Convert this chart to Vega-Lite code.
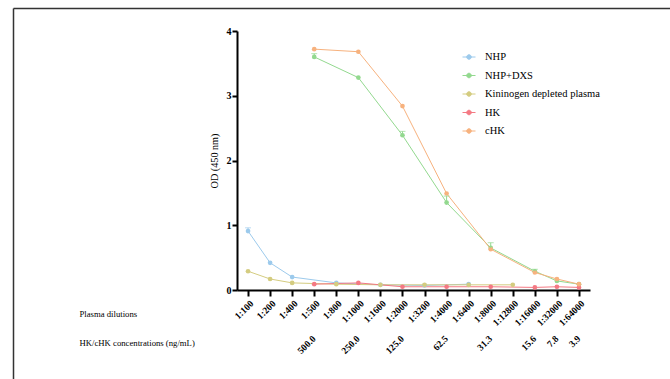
{
  "$schema": "https://vega.github.io/schema/vega-lite/v6.json",
  "width": 657,
  "height": 371,
  "autosize": {"type": "none"},
  "padding": {"left": 13, "top": 8, "right": 0, "bottom": 0},
  "background": "white",
  "config": {
    "view": {"stroke": null},
    "font": "Liberation Serif"
  },
  "datasets": {
    "pts": [
      {"s": "NHP", "dil": "1:100", "od": 0.91},
      {"s": "NHP", "dil": "1:200", "od": 0.42},
      {"s": "NHP", "dil": "1:400", "od": 0.20},
      {"s": "NHP", "dil": "1:800", "od": 0.11},
      {"s": "NHP", "dil": "1:1600", "od": 0.08},
      {"s": "NHP", "dil": "1:3200", "od": 0.07},
      {"s": "NHP", "dil": "1:6400", "od": 0.09},
      {"s": "NHP+DXS", "dil": "1:500", "od": 3.60},
      {"s": "NHP+DXS", "dil": "1:1000", "od": 3.28},
      {"s": "NHP+DXS", "dil": "1:2000", "od": 2.39},
      {"s": "NHP+DXS", "dil": "1:4000", "od": 1.35},
      {"s": "NHP+DXS", "dil": "1:8000", "od": 0.65},
      {"s": "NHP+DXS", "dil": "1:16000", "od": 0.29},
      {"s": "NHP+DXS", "dil": "1:32000", "od": 0.14},
      {"s": "NHP+DXS", "dil": "1:64000", "od": 0.09},
      {"s": "Kininogen depleted plasma", "dil": "1:100", "od": 0.29},
      {"s": "Kininogen depleted plasma", "dil": "1:200", "od": 0.17},
      {"s": "Kininogen depleted plasma", "dil": "1:400", "od": 0.11},
      {"s": "Kininogen depleted plasma", "dil": "1:800", "od": 0.09},
      {"s": "Kininogen depleted plasma", "dil": "1:1600", "od": 0.08},
      {"s": "Kininogen depleted plasma", "dil": "1:3200", "od": 0.08},
      {"s": "Kininogen depleted plasma", "dil": "1:6400", "od": 0.08},
      {"s": "Kininogen depleted plasma", "dil": "1:12800", "od": 0.08},
      {"s": "HK", "dil": "1:500", "od": 0.09},
      {"s": "HK", "dil": "1:1000", "od": 0.11},
      {"s": "HK", "dil": "1:2000", "od": 0.05},
      {"s": "HK", "dil": "1:4000", "od": 0.05},
      {"s": "HK", "dil": "1:8000", "od": 0.05},
      {"s": "HK", "dil": "1:16000", "od": 0.04},
      {"s": "HK", "dil": "1:32000", "od": 0.05},
      {"s": "HK", "dil": "1:64000", "od": 0.04},
      {"s": "cHK", "dil": "1:500", "od": 3.72},
      {"s": "cHK", "dil": "1:1000", "od": 3.68},
      {"s": "cHK", "dil": "1:2000", "od": 2.84},
      {"s": "cHK", "dil": "1:4000", "od": 1.49},
      {"s": "cHK", "dil": "1:8000", "od": 0.63},
      {"s": "cHK", "dil": "1:16000", "od": 0.27},
      {"s": "cHK", "dil": "1:32000", "od": 0.17},
      {"s": "cHK", "dil": "1:64000", "od": 0.09}
    ],
    "err": [
      {"s": "NHP", "dil": "1:100", "od": 0.91, "hi": 0.96},
      {"s": "NHP+DXS", "dil": "1:500", "od": 3.60, "hi": 3.65},
      {"s": "NHP+DXS", "dil": "1:2000", "od": 2.39, "hi": 2.45},
      {"s": "NHP+DXS", "dil": "1:4000", "od": 1.35, "hi": 1.45},
      {"s": "NHP+DXS", "dil": "1:8000", "od": 0.65, "hi": 0.73},
      {"s": "NHP+DXS", "dil": "1:16000", "od": 0.29, "hi": 0.32}
    ],
    "conc": [
      {"dil": "1:500", "conc": "500.0"},
      {"dil": "1:1000", "conc": "250.0"},
      {"dil": "1:2000", "conc": "125.0"},
      {"dil": "1:4000", "conc": "62.5"},
      {"dil": "1:8000", "conc": "31.3"},
      {"dil": "1:16000", "conc": "15.6"},
      {"dil": "1:32000", "conc": "7.8"},
      {"dil": "1:64000", "conc": "3.9"}
    ]
  },
  "resolve": {"scale": {"x": "independent", "y": "independent"}, "axis": {"x": "independent", "y": "independent"}},
  "layer": [
    {
      "layer": [
        {
          "data": {"name": "pts"},
          "mark": {"type": "line", "strokeWidth": 1},
          "encoding": {
            "x": {
              "field": "dil", "type": "ordinal",
              "scale": {"type": "point", "domain": ["1:100","1:200","1:400","1:500","1:800","1:1000","1:1600","1:2000","1:3200","1:4000","1:6400","1:8000","1:12800","1:16000","1:32000","1:64000"], "range": [224, 577], "padding": 0.5},
              "axis": {
                "orient": "bottom", "offset": -89,
                "domainColor": "black", "domainWidth": 2, "tickColor": "black", "tickWidth": 2, "tickSize": 6,
                "labelAngle": -45, "labelFont": "Liberation Serif", "labelFontWeight": "bold", "labelFontSize": 9.5, "labelColor": "black", "labelPadding": 2,
                "title": ["Plasma dilutions", "HK/cHK concentrations (ng/mL)"],
                "titleFont": "Liberation Serif", "titleFontWeight": "normal", "titleFontSize": 8.7, "titleColor": "black",
                "titleAlign": "left", "titleAnchor": "start", "titleBaseline": "middle", "titleLineHeight": 29,
                "titleX": 66, "titleY": 23, "titleAngle": 0
              }
            },
            "y": {
              "field": "od", "type": "quantitative",
              "scale": {"domain": [0, 4], "range": [282, 23], "nice": false, "zero": true},
              "axis": {
                "orient": "left", "offset": -224, "values": [0, 1, 2, 3, 4], "format": "d", "grid": false,
                "domainColor": "black", "domainWidth": 2, "tickColor": "black", "tickWidth": 2, "tickSize": 5,
                "labelFont": "Liberation Serif", "labelFontWeight": "bold", "labelFontSize": 10, "labelColor": "black", "labelPadding": 1,
                "title": "OD (450 nm)", "titleFont": "Liberation Serif", "titleFontWeight": "normal", "titleFontSize": 10.2, "titleColor": "black", "titlePadding": 7
              }
            },
            "color": {
              "field": "s", "type": "nominal",
              "scale": {"domain": ["NHP", "NHP+DXS", "Kininogen depleted plasma", "HK", "cHK"], "range": ["#9ccaec", "#93d98f", "#d4cc80", "#f47983", "#f7b27e"]},
              "legend": {
                "title": null, "orient": "none", "legendX": 449, "legendY": 42,
                "labelFont": "Liberation Serif", "labelFontSize": 10.5, "labelColor": "black", "labelOffset": 9,
                "symbolType": "M-1,0H1M-0.35,0A0.35,0.35 0 1 0 0.35,0A0.35,0.35 0 1 0 -0.35,0Z",
                "symbolSize": 169, "symbolStrokeWidth": 1, "rowPadding": 5.5,
                "encode": {"symbols": {"update": {"fill": {"scale": "color", "field": "value"}, "stroke": {"scale": "color", "field": "value"}, "opacity": {"value": 1}}}}
              }
            },
            "order": {"value": null}
          }
        },
        {
          "data": {"name": "pts"},
          "mark": {"type": "point", "filled": true, "size": 22, "opacity": 1},
          "encoding": {
            "x": {"field": "dil", "type": "ordinal"},
            "y": {"field": "od", "type": "quantitative"},
            "color": {"field": "s", "type": "nominal"}
          }
        },
        {
          "data": {"name": "err"},
          "mark": {"type": "rule", "strokeWidth": 1},
          "encoding": {
            "x": {"field": "dil", "type": "ordinal"},
            "y": {"field": "od", "type": "quantitative"},
            "y2": {"field": "hi"},
            "color": {"field": "s", "type": "nominal"}
          }
        },
        {
          "data": {"name": "err"},
          "mark": {"type": "tick", "thickness": 1, "size": 6, "orient": "horizontal"},
          "encoding": {
            "x": {"field": "dil", "type": "ordinal"},
            "y": {"field": "hi", "type": "quantitative"},
            "color": {"field": "s", "type": "nominal"}
          }
        },
        {
          "data": {"name": "conc"},
          "mark": {"type": "text", "angle": -45, "align": "right", "baseline": "middle", "font": "Liberation Serif", "fontWeight": "bold", "fontSize": 9.5, "color": "black"},
          "encoding": {
            "x": {"field": "dil", "type": "ordinal"},
            "y": {"datum": -0.73, "type": "quantitative"},
            "text": {"field": "conc"}
          }
        }
      ]
    },
    {
      "data": {"name": "pts"},
      "mark": {"type": "point", "opacity": 0},
      "encoding": {
        "x": {
          "field": "od", "type": "quantitative",
          "scale": {"range": [0, 657]},
          "axis": {"orient": "top", "offset": 0, "ticks": false, "labels": false, "grid": false, "title": null, "domainColor": "#333333", "domainWidth": 1.5}
        },
        "y": {
          "field": "od", "type": "quantitative",
          "scale": {"range": [371, 0]},
          "axis": {"orient": "left", "offset": 0, "ticks": false, "labels": false, "grid": false, "title": null, "domainColor": "#333333", "domainWidth": 1.5}
        }
      }
    }
  ]
}
